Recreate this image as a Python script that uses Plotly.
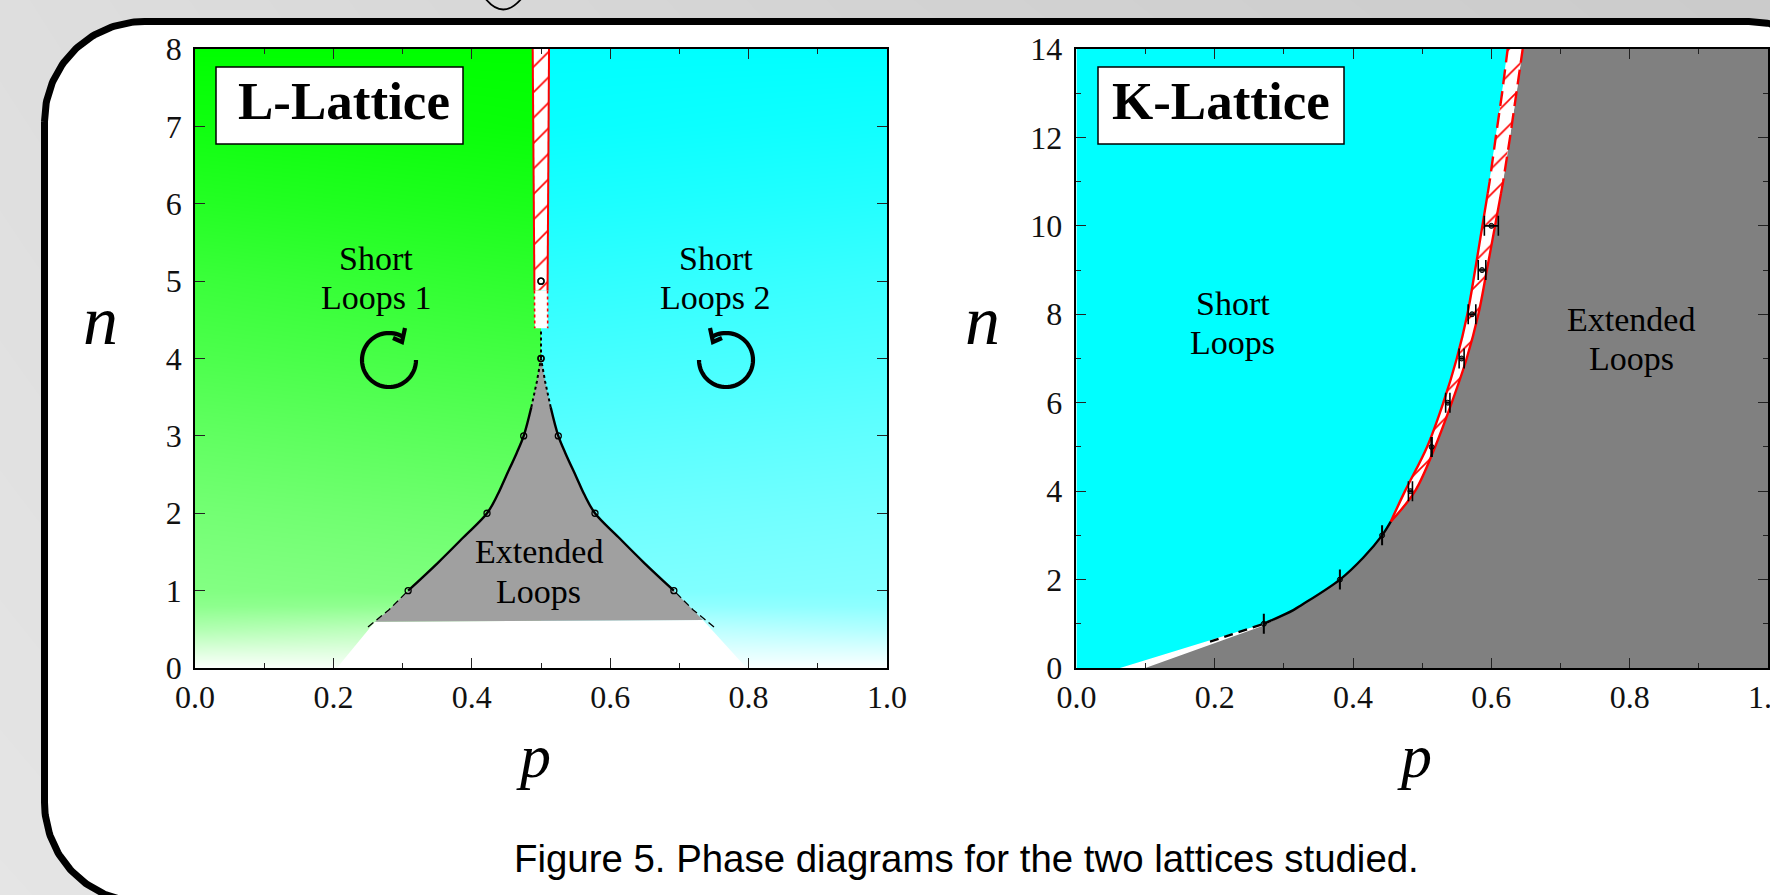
import math
import plotly.graph_objects as go

W, H = 1770, 895
SERIF = "Liberation Serif"

# ---- L-lattice values
L_points_n = [1, 2, 3, 4, 5]
L_points_p_left = [0.308, 0.422, 0.475, 0.5, 0.5]
L_points_p_right = [0.692, 0.578, 0.525, 0.5, 0.5]
L_solid_n = [1.0, 1.36, 1.69, 2.0, 2.235, 2.47, 2.78, 3.0, 3.37]
L_solid_p_left = [0.308, 0.351, 0.388, 0.422, 0.437, 0.449, 0.4649, 0.475, 0.486]
L_solid_p_right = [0.692, 0.649, 0.612, 0.578, 0.563, 0.551, 0.5351, 0.525, 0.514]
L_top_dash_n = [3.37, 3.7, 4.0]
L_top_dash_p_left = [0.486, 0.494, 0.5]
L_top_dash_p_right = [0.514, 0.506, 0.5]
L_stem_n = [4.0, 4.37]
L_stem_p = [0.5, 0.5]
L_low_dash_n = [0.53, 0.75, 1.0]
L_low_dash_p_left = [0.25, 0.28, 0.308]
L_low_dash_p_right = [0.75, 0.72, 0.692]
L_grey_base_n = [0.598, 0.62]
L_grey_base_p = [0.26, 0.734]
L_white_n = [0.0, 0.598, 0.62, 0.0]
L_white_p = [0.205, 0.26, 0.734, 0.797]
L_band_n = [8.0, 4.88]
L_band_p_left = [0.488, 0.4905]
L_band_p_right = [0.5116, 0.5095]
L_band_low_n = [4.88, 4.39]
L_band_low_p_left = [0.4905, 0.491]
L_band_low_p_right = [0.5095, 0.5097]

# ---- K-lattice values
K_points_n = [1, 2, 3, 4, 5, 6, 7, 8, 9, 10]
K_points_p = [0.271, 0.381, 0.442, 0.483, 0.5136, 0.537, 0.557, 0.572, 0.5865, 0.600]
K_points_err = [0.0003, 0.0003, 0.0003, 0.0029, 0.0007, 0.0031, 0.0036, 0.0055, 0.0055, 0.0101]
K_curve_n = [1.0, 1.31, 1.425, 2.0, 2.5, 3.0, 3.31]
K_curve_p = [0.271, 0.3137, 0.3257, 0.381, 0.415, 0.442, 0.4545]
K_dash_n = [0.595, 1.0]
K_dash_p = [0.1932, 0.271]
K_band_n = [3.31, 4, 5, 6, 7, 8, 9, 10, 10.74, 11, 12, 13, 14]
K_band_p_left = [0.4545, 0.4751, 0.507, 0.5305, 0.55, 0.5653, 0.5765, 0.587, 0.5948, 0.5975, 0.6063, 0.6155, 0.6236]
K_band_p_right = [0.4545, 0.4896, 0.5186, 0.5427, 0.5643, 0.5812, 0.5935, 0.6053, 0.6140, 0.617, 0.627, 0.6366, 0.6453]
K_cyan_foot_p = [0.0, 0.063]
K_cyan_foot_n = [0.0, 0.0]
K_grey_foot_p = [0.0997]
K_grey_foot_n = [0.0]

# ---- colour gradient of the L-lattice background (0 = saturated, 1 = white)
grad_n = [-0.5, 0.0, 0.2, 0.5, 0.8, 1.0, 2.0, 3.0, 4.0, 5.0, 6.0, 7.0, 8.0, 8.5]
grad_outer = [1.0, 1.0, 0.88, 0.68, 0.55, 0.52, 0.46, 0.39, 0.31, 0.24, 0.15, 0.07, 0.0, 0.0]
grad_inner = [1.0, 0.95, 0.90, 0.78, 0.58, 0.49, 0.42, 0.34, 0.26, 0.18, 0.10, 0.03, 0.0, 0.0]
grad_p = [-0.1, 0.4999, 0.5001, 1.1]

# ---- page backdrop
page_x = [-100, 885, 1870]
page_y = [-100, 1000]
page_z = [[0.70, 0.30, 0.02], [0.95, 0.70, 0.40]]

# ---- frame corners
frame_left, frame_top, frame_right, frame_bottom, frame_r = 44.5, 21.5, 1849, 902.5, 100

fig = go.Figure()

# backdrop on a full-page pixel subplot
fig.add_trace(go.Heatmap(x=page_x, y=page_y, z=page_z, zsmooth="best", showscale=False, hoverinfo="skip",
                         colorscale=[[0, "#c8c8c8"], [1, "#e8e8e8"]], zmin=0, zmax=1, xaxis="x", yaxis="y"))


def corner(cx, cy, a0, a1, r):
    xs, ys = [], []
    for i in range(61):
        a = math.radians(a0 + (a1 - a0) * i / 60)
        xs.append(cx + r * math.cos(a))
        ys.append(cy + r * math.sin(a))
    return xs, ys


fx, fy = [], []
for cx, cy, a0, a1 in [
    (frame_left + frame_r, frame_top + frame_r, 180, 270),
    (frame_right - frame_r, frame_top + frame_r, 270, 360),
    (frame_right - frame_r, frame_bottom - frame_r, 0, 90),
    (frame_left + frame_r, frame_bottom - frame_r, 90, 180),
]:
    a, b = corner(cx, cy, a0, a1, frame_r)
    fx += a
    fy += b
fx.append(fx[0])
fy.append(fy[0])
fig.add_trace(go.Scatter(x=fx, y=fy, mode="lines", fill="toself", fillcolor="white",
                         line=dict(color="black", width=7), hoverinfo="skip", xaxis="x", yaxis="y"))

# ---------- L-lattice panel
LX, LY = "x2", "y2"
signed = []
for i in range(len(grad_n)):
    signed.append([-(1 - grad_outer[i]), -(1 - grad_inner[i]), 1 - grad_inner[i], 1 - grad_outer[i]])
fig.add_trace(go.Heatmap(x=grad_p, y=grad_n, z=signed, zsmooth="best", showscale=False, hoverinfo="skip",
                         zmin=-1, zmax=1, colorscale=[[0, "#00ff00"], [0.5, "#ffffff"], [1, "#00ffff"]],
                         xaxis=LX, yaxis=LY))


def poly(px, ny, xa, ya, color, **kw):
    return go.Scatter(x=px, y=ny, mode="lines", fill="toself", fillcolor=color, line=dict(width=0),
                      hoverinfo="skip", xaxis=xa, yaxis=ya, **kw)


def line(px, ny, xa, ya, color="black", width=2, dash="solid", shape="linear"):
    return go.Scatter(x=px, y=ny, mode="lines", line=dict(color=color, width=width, dash=dash, shape=shape),
                      hoverinfo="skip", xaxis=xa, yaxis=ya)


grey_p = [L_grey_base_p[0]] + L_low_dash_p_left[1:] + L_solid_p_left[1:] + L_top_dash_p_left[1:] \
    + L_top_dash_p_right[::-1][1:] + L_solid_p_right[::-1][1:] + L_low_dash_p_right[::-1][1:-1] + [L_grey_base_p[1]]
grey_n = [L_grey_base_n[0]] + L_low_dash_n[1:] + L_solid_n[1:] + L_top_dash_n[1:] \
    + L_top_dash_n[::-1][1:] + L_solid_n[::-1][1:] + L_low_dash_n[::-1][1:-1] + [L_grey_base_n[1]]
fig.add_trace(poly(L_white_p, L_white_n, LX, LY, "white"))
fig.add_trace(poly(grey_p, grey_n, LX, LY, "#a0a0a0"))

hatch = dict(shape="/", fgcolor="#ff0000", bgcolor="white", fgopacity=1, size=18, solidity=0.09)
band_p = L_band_p_left + L_band_p_right[::-1]
band_n = L_band_n + L_band_n[::-1]
fig.add_trace(go.Scatter(x=band_p, y=band_n, mode="lines", fill="toself", line=dict(width=0), hoverinfo="skip",
                         fillcolor="white", xaxis=LX, yaxis=LY, fillpattern=hatch))
fig.add_trace(poly(L_band_low_p_left + L_band_low_p_right[::-1], L_band_low_n + L_band_low_n[::-1], LX, LY, "white"))
for p_ in (L_band_p_left, L_band_p_right):
    fig.add_trace(line(p_, L_band_n, LX, LY, "red", 2))
for p_ in (L_band_low_p_left, L_band_low_p_right):
    fig.add_trace(line(p_, L_band_low_n, LX, LY, "red", 1.6, "3px,3px"))

for p_ in (L_solid_p_left, L_solid_p_right):
    fig.add_trace(line(p_, L_solid_n, LX, LY, "black", 2.4, shape="spline"))
for p_ in (L_top_dash_p_left, L_top_dash_p_right):
    fig.add_trace(line(p_, L_top_dash_n, LX, LY, "black", 2, "3px,3px"))
fig.add_trace(line(L_stem_p, L_stem_n, LX, LY, "black", 2, "3px,3px"))
for p_ in (L_low_dash_p_left, L_low_dash_p_right):
    fig.add_trace(line(p_, L_low_dash_n, LX, LY, "black", 1.3, "7px,4px"))
for p_ in (L_points_p_left, L_points_p_right):
    fig.add_trace(go.Scatter(x=p_, y=L_points_n, mode="markers", hoverinfo="skip", xaxis=LX, yaxis=LY,
                             marker=dict(size=6, color="rgba(0,0,0,0)", line=dict(color="black", width=1.3))))

# ---------- K-lattice panel
KX, KY = "x3", "y3"
cy_p = K_cyan_foot_p + K_curve_p[:1] + K_curve_p[1:-1] + K_band_p_left + [K_cyan_foot_p[0]]
cy_n = K_cyan_foot_n + K_curve_n[:1] + K_curve_n[1:-1] + K_band_n + [K_band_n[-1]]
fig.add_trace(poly(cy_p, cy_n, KX, KY, "#00ffff"))
gr_p = K_grey_foot_p + K_curve_p[:-1] + K_band_p_right + [1.0, 1.0]
gr_n = K_grey_foot_n + [K_curve_n[0] - 0.04] + K_curve_n[1:-1] + K_band_n + [K_band_n[-1], 0.0]
fig.add_trace(poly(gr_p, gr_n, KX, KY, "#808080"))
fig.add_trace(go.Scatter(x=K_band_p_left + K_band_p_right[::-1], y=K_band_n + K_band_n[::-1], mode="lines",
                         fill="toself", line=dict(width=0), hoverinfo="skip", fillcolor="white", xaxis=KX, yaxis=KY,
                         fillpattern=hatch))
solid_end = 9
for p_ in (K_band_p_left, K_band_p_right):
    fig.add_trace(line(p_[:solid_end], K_band_n[:solid_end], KX, KY, "red", 2.4, shape="spline"))
    fig.add_trace(line(p_[solid_end - 1:], K_band_n[solid_end - 1:], KX, KY, "red", 2.4, "15px,7px"))
fig.add_trace(line(K_curve_p, K_curve_n, KX, KY, "black", 2.4, shape="spline"))
fig.add_trace(line(K_dash_p, K_dash_n, KX, KY, "black", 2.4, "9px,6px"))
fig.add_trace(go.Scatter(x=K_points_p, y=K_points_n, mode="markers", hoverinfo="skip", xaxis=KX, yaxis=KY,
                         marker=dict(size=5, color="rgba(0,0,0,0.6)", line=dict(color="black", width=1)),
                         error_x=dict(type="data", array=K_points_err, visible=True, color="black",
                                      thickness=1.6, width=10)))

# ---------- layout


def axis(domain, dtick, rng, anchor, minor=None, standoff=0):
    d = dict(domain=domain, range=rng, anchor=anchor, dtick=dtick, ticks="inside", ticklen=10, tickwidth=1.3,
             tickcolor="#222222", showline=True, linecolor="black", linewidth=1.6, mirror="ticks", showgrid=False,
             zeroline=False, tickfont=dict(family=SERIF, size=32, color="#111111"), layer="above traces",
             automargin=False, ticklabeloverflow="allow", ticklabelstandoff=standoff)
    if minor:
        d["minor"] = dict(dtick=minor, ticks="inside", ticklen=5, tickwidth=1.2, tickcolor="#222222", showgrid=False)
    return d


y_dom = [(H - 668) / H, (H - 49) / H]
layout = dict(
    width=W, height=H, margin=dict(l=0, r=0, t=0, b=0, pad=0, autoexpand=False), showlegend=False,
    paper_bgcolor="white", plot_bgcolor="rgba(0,0,0,0)",
    xaxis=dict(domain=[0, 1], range=[0, W], visible=False, fixedrange=True, automargin=False),
    yaxis=dict(domain=[0, 1], range=[H, 0], visible=False, fixedrange=True, automargin=False),
    xaxis2=axis([195 / W, 887 / W], 0.2, [0, 1], "y2", 0.1, 0) | dict(tickformat=".1f"),
    yaxis2=axis(y_dom, 1, [0, 8], "x2", None, 5),
    xaxis3=axis([1076.4 / W, 1768 / W], 0.2, [0, 1], "y3", 0.1, 0) | dict(tickformat=".1f"),
    yaxis3=axis(y_dom, 2, [0, 14], "x3", 1, 6),
)
fig.update_layout(**layout)


def txt(x, y, s, size, xref="x", yref="y", **kw):
    fig.add_annotation(x=x, y=y, xref=xref, yref=yref, text=s, showarrow=False,
                       font=dict(family=kw.pop("family", SERIF), size=size, color="black"), **kw)


LABEL = 34
for x_, y_, s_ in [
    (376, 258, "Short"), (376, 297, "Loops 1"),
    (715.7, 258, "Short"), (715.7, 297, "Loops 2"),
    (538.5, 551.5, "Extended"), (538.5, 591.5, "Loops"),
    (1232.7, 303, "Short"), (1232.7, 342, "Loops"),
    (1631, 319, "Extended"), (1631, 358, "Loops"),
]:
    txt(x_, y_, s_, LABEL)

txt(344, 101, "<b>L-Lattice</b>", 53)
txt(1221, 101, "<b>K-Lattice</b>", 53)
txt(100, 320, "<i>n</i>", 70)
txt(982, 320, "<i>n</i>", 70)
txt(533, 756, "<i>p</i>", 62)
txt(1414, 756, "<i>p</i>", 62)
txt(966, 858, "Figure 5. Phase diagrams for the two lattices studied.", 38.4, family="Liberation Sans")


def arc_path(cx, cy, r, a0, a1):
    pts = []
    for i in range(61):
        a = math.radians(a0 + (a1 - a0) * i / 60)
        pts.append((cx + r * math.cos(a), cy + r * math.sin(a)))
    return "M " + " L ".join(f"{x:.1f},{y:.1f}" for x, y in pts)


shapes = []
st = dict(type="path", xref="x", yref="y", layer="above", line=dict(color="black", width=4.2))
shapes.append(dict(path=arc_path(389, 360, 27, 0, 300), **st))
shapes.append(dict(path="M 405,328 L 402,342 L 393,338", **st))
shapes.append(dict(path=arc_path(726, 360, 27, 180, -120), **st))
shapes.append(dict(path="M 710,328 L 713,342 L 722,338", **st))
shapes.append(dict(type="path", xref="x", yref="y", layer="above", line=dict(color="black", width=1.8),
                   path="M 482,-6 Q 503,25 525,-6"))
box = dict(type="rect", xref="x", yref="y", layer="above", fillcolor="white", line=dict(color="black", width=1.5))
shapes.insert(0, dict(x0=216, x1=463, y0=67, y1=144, **box))
shapes.insert(1, dict(x0=1098, x1=1344, y0=67, y1=144, **box))
fig.update_layout(shapes=shapes)

fig.write_html("out.html", config=dict(displayModeBar=False),
               post_script="document.body.style.margin='0';document.documentElement.style.overflow='hidden';")
